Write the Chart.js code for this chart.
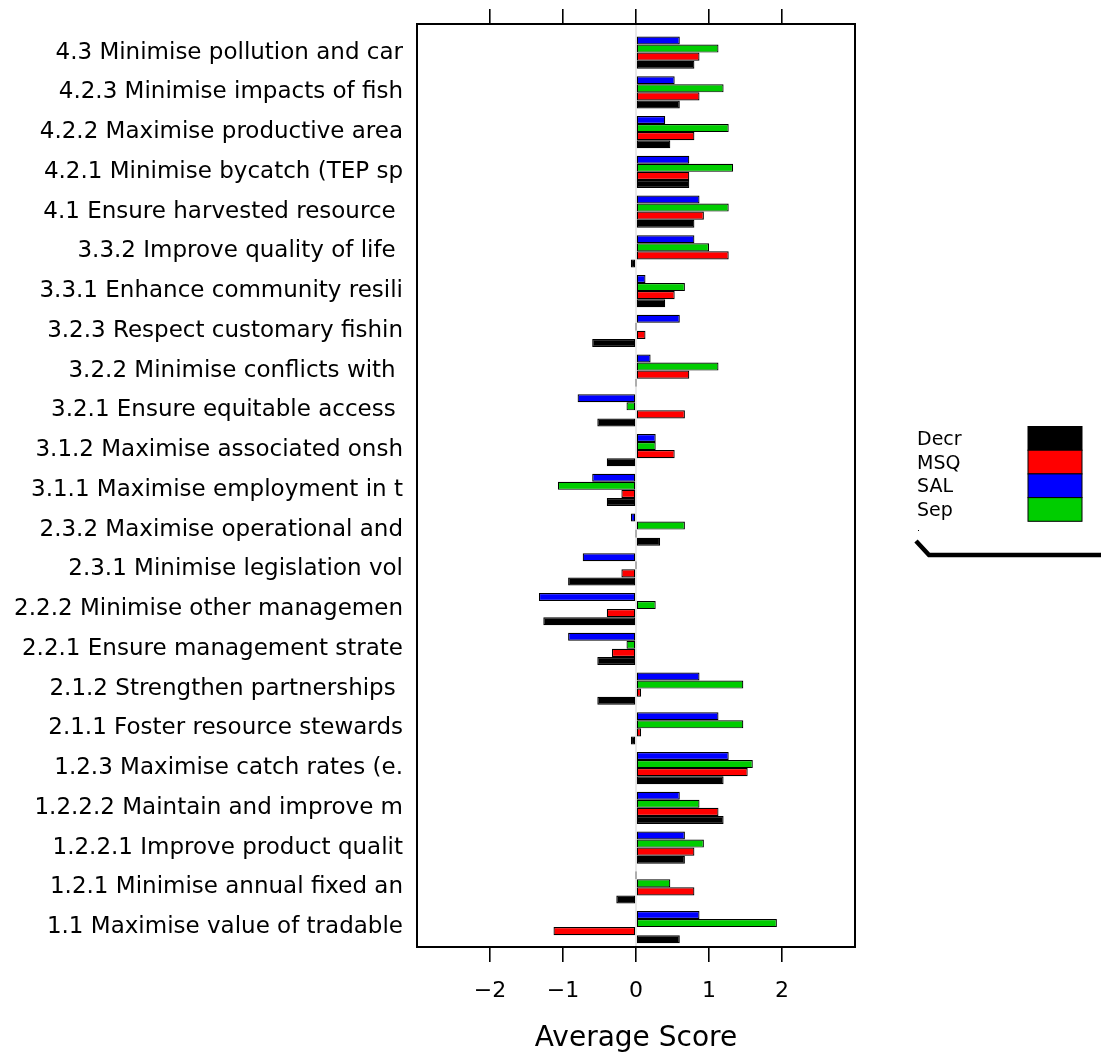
<!DOCTYPE html>
<html>
<head>
<meta charset="utf-8">
<script src="https://cdn.jsdelivr.net/npm/chart.js@4"></script>
<style>
	body{margin:0;background:#fff;}
</style>
</head>
<body>
<canvas id="chart" width="1101" height="1053"></canvas>
<script>
// objectives, top to bottom
let categories = [
	'4.3 Minimise pollution and car',
	'4.2.3 Minimise impacts of fish',
	'4.2.2 Maximise productive area',
	'4.2.1 Minimise bycatch (TEP sp',
	'4.1 Ensure harvested resource ',
	'3.3.2 Improve quality of life ',
	'3.3.1 Enhance community resili',
	'3.2.3 Respect customary fishin',
	'3.2.2 Minimise conflicts with ',
	'3.2.1 Ensure equitable access ',
	'3.1.2 Maximise associated onsh',
	'3.1.1 Maximise employment in t',
	'2.3.2 Maximise operational and',
	'2.3.1 Minimise legislation vol',
	'2.2.2 Minimise other managemen',
	'2.2.1 Ensure management strate',
	'2.1.2 Strengthen partnerships ',
	'2.1.1 Foster resource stewards',
	'1.2.3 Maximise catch rates (e.',
	'1.2.2.2 Maintain and improve m',
	'1.2.2.1 Improve product qualit',
	'1.2.1 Minimise annual fixed an',
	'1.1 Maximise value of tradable'
];

let sal  = [0.60, 0.53, 0.40, 0.73, 0.87, 0.80, 0.13, 0.60, 0.20, -0.80, 0.27, -0.60, -0.07, -0.73, -1.33, -0.93, 0.87, 1.13, 1.27, 0.60, 0.67, 0, 0.87];
let sep  = [1.13, 1.20, 1.27, 1.33, 1.27, 1.00, 0.67, 0, 1.13, -0.13, 0.27, -1.07, 0.67, 0, 0.27, -0.13, 1.47, 1.47, 1.60, 0.87, 0.93, 0.47, 1.93];
let msq  = [0.87, 0.87, 0.80, 0.73, 0.93, 1.27, 0.53, 0.13, 0.73, 0.67, 0.53, -0.20, 0, -0.20, -0.40, -0.33, 0.07, 0.07, 1.53, 1.13, 0.80, 0.80, -1.13];
let decr = [0.80, 0.60, 0.47, 0.73, 0.80, -0.07, 0.40, -0.60, 0, -0.53, -0.40, -0.40, 0.33, -0.93, -1.27, -0.53, -0.53, -0.07, 1.20, 1.20, 0.67, -0.27, 0.60];

let xTicks = [-2, -1, 0, 1, 2];
let legendOrder = ['Decr', 'MSQ', 'SAL', 'Sep'];

const FONT = "'DejaVu Sans', 'Liberation Sans', Arial, sans-serif";
let n = categories.length;

function toPoints(values){
	return values.map(function(v, i){
		return {x: v, y: n - i};
	});
}

function makeSet(label, values, color){
	return {
		label: label,
		data: toPoints(values),
		backgroundColor: color,
		borderColor: '#000',
		borderWidth: 1.2,
		borderSkipped: false,
		minBarLength: 1
	};
}

function minusLabel(v){
	return v < 0 ? '\u2212' + Math.abs(v) : String(v);
}

// box, zero reference line and the lattice style key
let frame = {
	id: 'frame',
	beforeDatasetsDraw: function(chart){
		let c = chart.ctx, a = chart.chartArea;
		let x0 = chart.scales.x.getPixelForValue(0);
		c.save();
		c.strokeStyle = '#e0e0e0';
		c.lineWidth = 1.5;
		c.beginPath();
		c.moveTo(x0, a.top);
		c.lineTo(x0, a.bottom);
		c.stroke();
		c.restore();
	},
	afterDraw: function(chart){
		let c = chart.ctx, a = chart.chartArea;
		c.save();
		c.strokeStyle = '#000';
		c.lineWidth = 2;
		c.strokeRect(a.left, a.top, a.right - a.left, a.bottom - a.top);

		// key
		let sets = chart.data.datasets;
		c.font = '19px ' + FONT;
		c.textAlign = 'left';
		c.textBaseline = 'middle';
		legendOrder.forEach(function(name, i){
			let ds = sets.find(function(d){ return d.label === name; });
			c.fillStyle = '#000';
			c.fillText(name, 917, 440 + i * 23.6);
			c.fillStyle = ds.backgroundColor;
			c.fillRect(1028, 426.5 + i * 23.7, 54, 23.7);
			c.lineWidth = 1;
			c.strokeStyle = '#000';
			c.strokeRect(1028, 426.5 + i * 23.7, 54, 23.7);
		});
		c.fillStyle = '#000';
		c.fillRect(918, 530, 1, 1);
		c.lineWidth = 4.5;
		c.beginPath();
		c.moveTo(916, 541);
		c.lineTo(929, 555);
		c.lineTo(1101, 555);
		c.stroke();
		c.restore();
	}
};

let ctx = document.getElementById('chart');

new Chart(ctx, {
	type: 'bar',
	data: {
		datasets: [
			makeSet('SAL', sal, '#0000ff'),
			makeSet('Sep', sep, '#00cd00'),
			makeSet('MSQ', msq, '#ff0000'),
			makeSet('Decr', decr, '#000000')
		]
	},
	options: {
		indexAxis: 'y',
		responsive: false,
		animation: false,
		categoryPercentage: 0.813,
		barPercentage: 1,
		layout: {padding: {left: 0, right: 246, top: 0, bottom: 0}},
		plugins: {
			legend: {display: false},
			tooltip: {enabled: false}
		},
		scales: {
			y: {
				type: 'linear',
				offset: false,
				min: 0.5,
				max: 23.72,
				afterBuildTicks: function(scale){
					scale.ticks = categories.map(function(c, i){ return {value: n - i}; });
				},
				afterFit: function(scale){ scale.width = 417; },
				ticks: {
					autoSkip: false,
					padding: 0,
					color: '#000',
					font: {family: FONT, size: 23},
					callback: function(v){ return categories[n - v]; }
				},
				grid: {display: true, drawOnChartArea: false, drawTicks: true, tickLength: 14, color: 'rgba(0,0,0,0)'},
				border: {display: false}
			},
			x: {
				type: 'linear',
				position: 'bottom',
				min: -3,
				max: 3,
				afterBuildTicks: function(scale){
					scale.ticks = xTicks.map(function(v){ return {value: v}; });
				},
				afterFit: function(scale){ scale.height = 106; },
				ticks: {
					padding: 16,
					color: '#000',
					font: {family: FONT, size: 22},
					callback: minusLabel
				},
				grid: {drawOnChartArea: false, drawTicks: true, tickLength: 15, color: '#000', lineWidth: 1.6},
				border: {display: false},
				title: {
					display: true,
					text: 'Average Score',
					color: '#000',
					font: {family: FONT, size: 28, lineHeight: 1},
					padding: 0
				}
			},
			x2: {
				type: 'linear',
				position: 'top',
				min: -3,
				max: 3,
				afterBuildTicks: function(scale){
					scale.ticks = xTicks.map(function(v){ return {value: v}; });
				},
				afterFit: function(scale){ scale.height = 24; },
				ticks: {display: false},
				grid: {drawOnChartArea: false, drawTicks: true, tickLength: 15, color: '#000', lineWidth: 1.6},
				border: {display: false}
			}
		}
	},
	plugins: [frame]
});
</script>
</body>
</html>
